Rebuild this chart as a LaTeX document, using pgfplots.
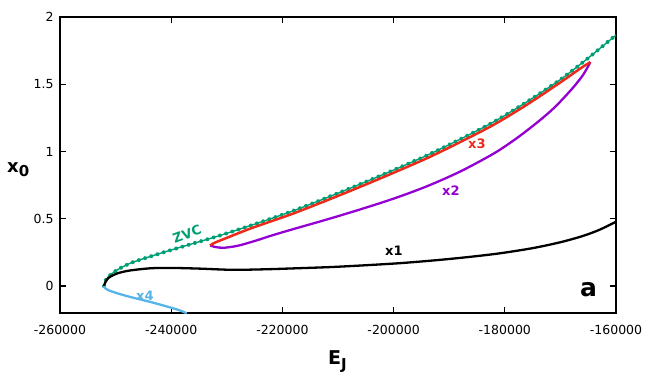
\documentclass[border=0pt]{standalone}
\usepackage{fontspec}
\setmainfont{DejaVu Sans}
\usepackage{pgfplots}
\pgfplotsset{compat=1.18}
\definecolor{zvc}{HTML}{009E73}
\definecolor{cxthree}{HTML}{EE2A1B}
\definecolor{cxtwo}{HTML}{9400D3}
\definecolor{cxfour}{HTML}{56B4E9}

\pgfplotstableread{
E Y
-252090 0
-251940 0.03
-251500 0.06
-250750 0.09
-249710 0.12
-248380 0.15
-246740 0.18
-243300 0.226
-239700 0.272
-236100 0.316
-232500 0.360
-229400 0.400
-224000 0.474
-218000 0.560
-211400 0.667
-205000 0.775
-199000 0.880
-193500 0.981
-188000 1.092
-182000 1.220
-176000 1.370
-170000 1.535
-165000 1.695
-160000 1.866
}\zvcdata

\begin{document}
\begin{tikzpicture}
\useasboundingbox (-60bp,-71bp) rectangle (588bp,313bp);
\begin{axis}[
    at={(0,0)}, anchor=south west,
    scale only axis,
    width=556bp, height=296bp,
    xmin=-260000, xmax=-160000,
    ymin=-0.2, ymax=2,
    xtick={-260000,-240000,-220000,-200000,-180000,-160000},
    xticklabels={-260000,-240000,-220000,-200000,-180000,-160000},
    ytick={0,0.5,1,1.5,2},
    yticklabels={0,0.5,1,1.5,2},
    scaled x ticks=false,
    tick label style={font=\fontsize{12.5bp}{15bp}\selectfont},
    xticklabel style={yshift=-9bp},
    yticklabel style={xshift=-3bp},
    axis line style={line width=1.6bp},
    major tick length=6bp,
    tick style={line width=1.3bp, black},
]

% zero velocity curve: thin line plus round dots
\addplot[zvc, line width=1.4bp, smooth, tension=0.5] table[x=E, y=Y] {\zvcdata};
\addplot[zvc, line width=4bp, line cap=round, dash pattern=on 0.01pt off 6.5bp,
    smooth, tension=0.5] table[x=E, y=Y] {\zvcdata};

% x1
\addplot[black, line width=2.3bp, smooth, tension=0.5]
  coordinates {
    (-252090,0) (-251800,0.032) (-251300,0.060) (-250500,0.080) (-249500,0.097)
    (-248000,0.112) (-246500,0.121) (-243500,0.133) (-240000,0.135) (-235000,0.130)
    (-229000,0.121) (-223000,0.125) (-217000,0.133) (-211000,0.142) (-205000,0.155)
    (-199000,0.170) (-193000,0.190) (-187000,0.214) (-181000,0.243) (-175000,0.282)
    (-170000,0.326) (-166000,0.372) (-163000,0.418) (-160000,0.478)
  };

% x4
\addplot[cxfour, line width=2.3bp, smooth, tension=0.5]
  coordinates {
    (-252090,0) (-251900,-0.015) (-251200,-0.032) (-250100,-0.048) (-248500,-0.068)
    (-246500,-0.090) (-244000,-0.115) (-241600,-0.142) (-239000,-0.173) (-237700,-0.193)
    (-237200,-0.203)
  };

% x2
\addplot[cxtwo, line width=2.3bp, smooth, tension=0.5]
  coordinates {
    (-233000,0.302) (-232000,0.290) (-230500,0.285) (-228000,0.300) (-225000,0.335)
    (-222000,0.375) (-218000,0.424) (-212000,0.495) (-206000,0.570) (-200000,0.650)
    (-194000,0.742) (-188000,0.852) (-182000,0.985) (-178000,1.095) (-174000,1.222)
    (-171000,1.330) (-168000,1.462) (-166000,1.565) (-164600,1.665)
  };

% x3
\addplot[cxthree, line width=2.5bp, smooth, tension=0.5]
  coordinates {
    (-233000,0.302) (-232300,0.320) (-231000,0.342) (-229000,0.375) (-226000,0.424)
    (-222000,0.482) (-218000,0.540) (-211400,0.647) (-205000,0.755) (-199000,0.860)
    (-193500,0.960) (-188000,1.071) (-182000,1.199) (-176000,1.349) (-170000,1.514)
    (-166500,1.615) (-164600,1.665)
  };

\begin{scope}[font=\bfseries\fontsize{13bp}{15bp}\selectfont, inner sep=0pt]
\node[cxthree, anchor=base west] at (axis cs:-186617,1.026) {x3};
\node[cxtwo, anchor=base west] at (axis cs:-191293,0.677) {x2};
\node[black, anchor=base west] at (axis cs:-201545,0.230) {x1};
\node[cxfour, anchor=base west] at (axis cs:-246331,-0.104) {x4};
\node[zvc, rotate=20] at (axis cs:-237158,0.386) {ZVC};
\end{scope}
\node[anchor=base west, inner sep=0pt, font=\bfseries\fontsize{25bp}{28bp}\selectfont]
  at (axis cs:-166473,-0.074) {a};
\end{axis}

% axis titles
\node[anchor=base west, inner sep=0pt, font=\bfseries\fontsize{18bp}{20bp}\selectfont]
  at (-53bp,140bp) {x\raisebox{-4bp}{\fontsize{15bp}{15bp}\selectfont 0}};
\node[anchor=base west, inner sep=0pt, font=\bfseries\fontsize{19bp}{21bp}\selectfont]
  at (268bp,-51bp) {E\raisebox{-5bp}{\fontsize{15bp}{15bp}\selectfont J}};
\end{tikzpicture}
\end{document}
